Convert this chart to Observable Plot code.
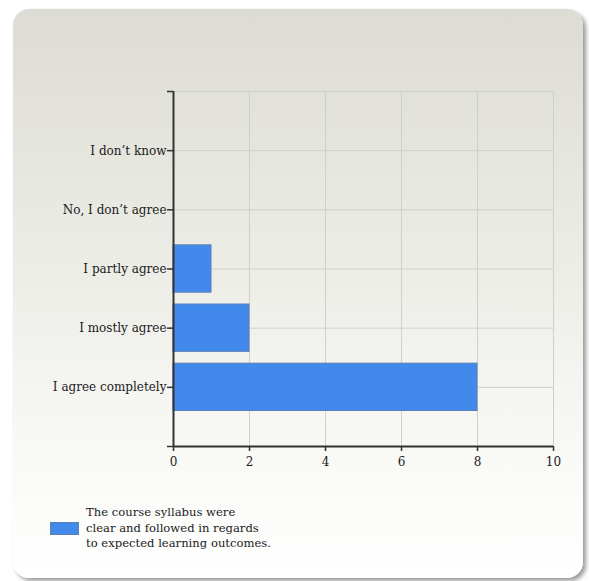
<!DOCTYPE html>
<html>
<head>
<meta charset="utf-8">
<script src="https://cdn.jsdelivr.net/npm/d3@7"></script>
<script src="https://cdn.jsdelivr.net/npm/@observablehq/plot@0.6"></script>
<style>
  html, body { margin: 0; padding: 0; background: #ffffff; }
  #wrap { position: relative; width: 589px; height: 581px; overflow: hidden; }
  #panel {
    position: absolute; left: 13px; top: 9px; width: 570px; height: 569px;
    border-radius: 16px;
    background: linear-gradient(to bottom, #dcdcd4 0%, #ebebe5 40%, #fbfbf9 85%, #ffffff 100%);
    box-shadow: 3px 3px 4px rgba(0,0,0,0.4);
  }
  #chart { position: absolute; left: 0; top: 0; }
  #legend {
    position: absolute; left: 50px; top: 505px;
    display: flex; align-items: center;
    font-family: "DejaVu Serif", serif; font-size: 11.6px; color: #1a1a1a;
  }
  #legend .sw { width: 29px; height: 13px; background: #4189eb; border: 1px solid #5b7fb3; box-sizing: border-box; margin-right: 7px; margin-top: 0px; }
  #legend .txt { line-height: 15.5px; }
</style>
</head>
<body>
<div id="wrap">
  <div id="panel"></div>
  <div id="chart"></div>
  <div id="legend"><div class="sw"></div><div class="txt" id="legtxt"></div></div>
</div>
<script>
const categories = ["I don\u2019t know", "No, I don\u2019t agree", "I partly agree", "I mostly agree", "I agree completely"];
const values = [0, 0, 1, 2, 8];
const xTicks = [0, 2, 4, 6, 8, 10];
const seriesLabel = ["The course syllabus were", "clear and followed in regards", "to expected learning outcomes."];

const n = categories.length;
const rows = categories.map((c, i) => ({ cat: c, value: values[i], pos: n - i }));
const posTicks = d3.range(0, n + 2);
const labelOf = p => { const r = rows.find(d => d.pos === p); return r ? r.cat : ""; };

const chart = Plot.plot({
  width: 589,
  height: 480,
  marginLeft: 173,
  marginRight: 36,
  marginTop: 91,
  marginBottom: 34,
  style: { fontFamily: "DejaVu Serif, serif", fontSize: "12px", color: "#1a1a1a", background: "transparent", overflow: "visible" },
  x: { domain: [0, 10] },
  y: { domain: [0, n + 1] },
  marks: [
    Plot.ruleX(xTicks.filter(t => t > 0), { stroke: "#cfcfcb", strokeWidth: 1 }),
    Plot.ruleY(rows, { y: "pos", stroke: "#cfcfcb", strokeWidth: 1 }),
    Plot.ruleY([n + 1], { stroke: "#cfcfcb", strokeWidth: 1 }),
    Plot.rectX(rows.filter(d => d.value > 0), {
      x1: 0, x2: "value",
      y1: d => d.pos - 0.4, y2: d => d.pos + 0.4,
      fill: "#4189eb", stroke: "#5b7fb3", strokeWidth: 1
    }),
    Plot.axisX({ ticks: xTicks, tickSize: 5, tickPadding: 6, label: null, stroke: "#333", strokeWidth: 1.5 }),
    Plot.axisY({ ticks: posTicks, tickFormat: labelOf, tickSize: 6, tickPadding: 1, label: null, stroke: "#333", strokeWidth: 1.5 }),
    Plot.ruleX([0], { stroke: "#333", strokeWidth: 2 }),
    Plot.ruleY([0], { stroke: "#333", strokeWidth: 2 })
  ]
});
document.getElementById("chart").appendChild(chart);
document.getElementById("legtxt").innerHTML = seriesLabel.join("<br>");
</script>
</body>
</html>
